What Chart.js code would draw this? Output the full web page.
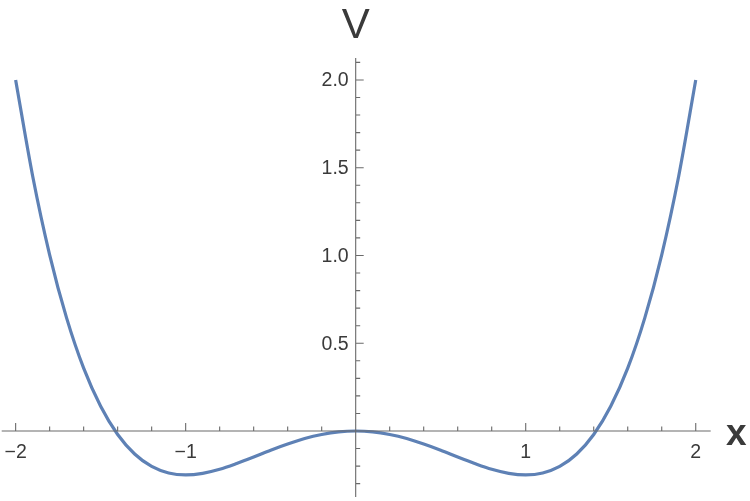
<!DOCTYPE html>
<html><head><meta charset="utf-8">
<style>html,body{margin:0;padding:0;background:#fff}#wrap{width:750px;height:501px}</style>
<script src="https://cdn.jsdelivr.net/npm/chart.js@4"></script>
</head><body><div id="wrap"><canvas id="c" width="750" height="501"></canvas></div>
<script>
const xValues = [-2.0,-1.9,-1.8,-1.7,-1.6,-1.5,-1.4,-1.3,-1.2,-1.1,-1.0,-0.9,-0.8,-0.7,-0.6,-0.5,-0.4,-0.3,-0.2,-0.1,0.0,0.1,0.2,0.3,0.4,0.5,0.6,0.7,0.8,0.9,1.0,1.1,1.2,1.3,1.4,1.5,1.6,1.7,1.8,1.9,2.0];
const vValues = [2.0,1.453,1.004,0.643,0.358,0.141,-0.020,-0.131,-0.202,-0.239,-0.25,-0.241,-0.218,-0.185,-0.148,-0.109,-0.074,-0.043,-0.020,-0.005,0.0,-0.005,-0.020,-0.043,-0.074,-0.109,-0.148,-0.185,-0.218,-0.241,-0.25,-0.239,-0.202,-0.131,-0.020,0.141,0.358,0.643,1.004,1.453,2.0];
const xMajorTicks = [-2,-1,1,2];
const xTickLabels = ["\u22122","\u22121","1","2"];
const xMinorTicks = [-2,-1.8,-1.6,-1.4,-1.2,-1,-0.8,-0.6,-0.4,-0.2,0.2,0.4,0.6,0.8,1,1.2,1.4,1.6,1.8,2];
const yMajorTicks = [0.5,1.0,1.5,2.0];
const yTickLabels = ["0.5","1.0","1.5","2.0"];
const yMinorTicks = [-0.3,-0.2,-0.1,0.1,0.2,0.3,0.4,0.5,0.6,0.7,0.8,0.9,1.0,1.1,1.2,1.3,1.4,1.5,1.6,1.7,1.8,1.9,2.0,2.1];
const xAxisLabel = "x";
const yAxisLabel = "V";

const axesPlugin = {
  id: 'mathAxes',
  afterDatasetsDraw(chart) {
    const ctx = chart.ctx, xs = chart.scales.x, ys = chart.scales.y, a = chart.chartArea;
    const x0 = xs.getPixelForValue(0), y0 = ys.getPixelForValue(0);
    ctx.save();
    ctx.strokeStyle = '#6a6a6a';
    ctx.lineWidth = 1.1;
    ctx.beginPath();
    ctx.moveTo(a.left, y0); ctx.lineTo(a.right, y0);
    ctx.moveTo(x0, a.top); ctx.lineTo(x0, a.bottom);
    xMinorTicks.forEach(v => { const p = xs.getPixelForValue(v); ctx.moveTo(p, y0); ctx.lineTo(p, y0 - 4.5); });
    xMajorTicks.forEach(v => { const p = xs.getPixelForValue(v); ctx.moveTo(p, y0); ctx.lineTo(p, y0 - 8); });
    yMinorTicks.forEach(v => { const p = ys.getPixelForValue(v); ctx.moveTo(x0, p); ctx.lineTo(x0 + 4.5, p); });
    yMajorTicks.forEach(v => { const p = ys.getPixelForValue(v); ctx.moveTo(x0, p); ctx.lineTo(x0 + 8, p); });
    ctx.stroke();
    ctx.fillStyle = '#3a3a3a';
    ctx.font = '19.5px "Liberation Sans", Arial, sans-serif';
    ctx.textAlign = 'center'; ctx.textBaseline = 'top';
    xMajorTicks.forEach((v, i) => ctx.fillText(xTickLabels[i], xs.getPixelForValue(v), y0 + 12));
    ctx.textAlign = 'right'; ctx.textBaseline = 'middle';
    yMajorTicks.forEach((v, i) => ctx.fillText(yTickLabels[i], x0 - 7, ys.getPixelForValue(v) + 1));
    ctx.font = '42px "Liberation Sans", Arial, sans-serif';
    ctx.textAlign = 'center'; ctx.textBaseline = 'alphabetic';
    ctx.fillText(yAxisLabel, x0, 38);
    ctx.font = 'bold 37px "Liberation Sans", Arial, sans-serif';
    ctx.textAlign = 'left';
    ctx.fillText(xAxisLabel, 726, 445);
    ctx.restore();
  }
};

new Chart(document.getElementById('c'), {
  type: 'scatter',
  data: { datasets: [{
    data: xValues.map((x, i) => ({x: x, y: vValues[i]})),
    showLine: true, borderColor: '#5E81B5', borderWidth: 3.2, pointRadius: 0,
    cubicInterpolationMode: 'monotone', fill: false
  }]},
  options: {
    responsive: false, animation: false, devicePixelRatio: 1,
    layout: { padding: { left: 1.7, right: 39.3, top: 58, bottom: 4 } },
    plugins: { legend: { display: false }, tooltip: { enabled: false } },
    scales: {
      x: { type: 'linear', min: -2.082, max: 2.088, display: false },
      y: { type: 'linear', min: -0.376, max: 2.125, display: false }
    }
  },
  plugins: [axesPlugin]
});
</script></body></html>
